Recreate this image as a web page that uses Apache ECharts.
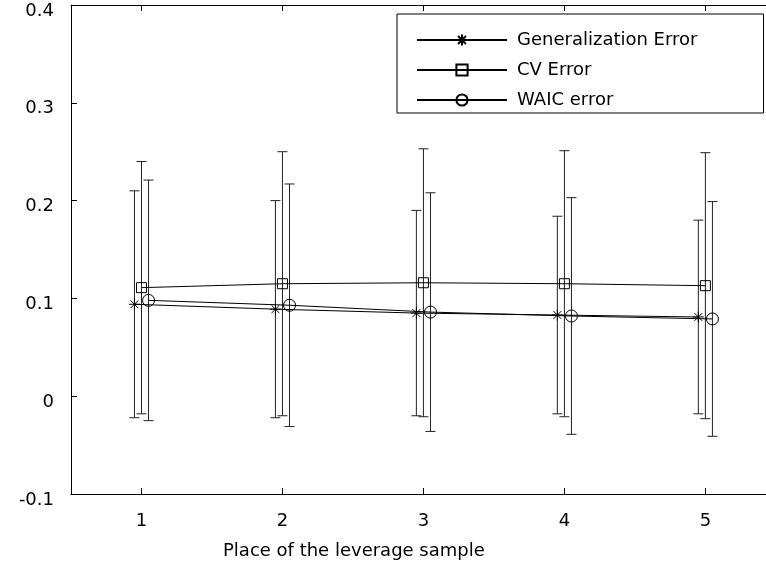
<!DOCTYPE html>
<html>
<head>
<meta charset="utf-8">
<script src="https://cdn.jsdelivr.net/npm/echarts@6/dist/echarts.min.js"></script>
<style>html,body{margin:0;padding:0;background:#fff}#c{width:766px;height:567px}</style>
</head>
<body>
<div id="c"></div>
<script>
// ---- data ----
const categories = [1, 2, 3, 4, 5];
const xTicks = [1, 2, 3, 4, 5];
const yTicks = [-0.1, 0, 0.1, 0.2, 0.3, 0.4];
const seriesNames = ['Generalization Error', 'CV Error', 'WAIC error'];
const genMean  = [0.094, 0.089, 0.085, 0.083, 0.081];
const genSd    = [0.116, 0.111, 0.105, 0.101, 0.099];
const cvMean   = [0.111, 0.115, 0.116, 0.115, 0.113];
const cvSd     = [0.129, 0.135, 0.137, 0.136, 0.136];
const waicMean = [0.098, 0.093, 0.086, 0.082, 0.079];
const waicSd   = [0.123, 0.124, 0.122, 0.121, 0.120];
const xAxisName = 'Place of the leverage sample';

// ---- styling ----
const FONT = 'DejaVu Sans';
const FS = 18;
const offsets = [-0.05, 0, 0.05];
const symbols = [
  'path://M0,-10L0,10M-10,0L10,0M-7.07,-7.07L7.07,7.07M-7.07,7.07L7.07,-7.07',
  'rect',
  'circle'
];
const symbolSizes = [11, 10, 12];
const means = [genMean, cvMean, waicMean];
const sds = [genSd, cvSd, waicSd];

const chart = echarts.init(document.getElementById('c'), null, {renderer: 'canvas'});

const lineSeries = seriesNames.map((name, i) => ({
  name: name,
  type: 'line',
  data: categories.map((c, k) => [c + offsets[i], means[i][k]]),
  symbol: symbols[i],
  symbolSize: symbolSizes[i],
  showSymbol: true,
  z: 3,
  lineStyle: {color: '#000', width: 1},
  itemStyle: {color: 'rgba(0,0,0,0)', borderColor: '#000', borderWidth: 1},
  emphasis: {disabled: true}
}));

const errSeries = seriesNames.map((name, i) => ({
  type: 'custom',
  z: 2,
  data: categories.map((c, k) => [c + offsets[i], means[i][k] - sds[i][k], means[i][k] + sds[i][k]]),
  renderItem: function (params, api) {
    const x = api.value(0);
    const lo = api.coord([x, api.value(1)]);
    const hi = api.coord([x, api.value(2)]);
    const cap = 5;
    const st = {stroke: '#222', lineWidth: 1};
    return {
      type: 'group',
      children: [
        {type: 'line', shape: {x1: lo[0], y1: lo[1], x2: hi[0], y2: hi[1]}, style: st},
        {type: 'line', shape: {x1: lo[0] - cap, y1: lo[1], x2: lo[0] + cap, y2: lo[1]}, style: st},
        {type: 'line', shape: {x1: hi[0] - cap, y1: hi[1], x2: hi[0] + cap, y2: hi[1]}, style: st}
      ]
    };
  },
  encode: {x: 0, y: [1, 2]},
  silent: true
}));

const axisCommon = {
  type: 'value',
  min: 0.5,
  max: 5.43,
  splitLine: {show: false},
  axisLine: {show: true, onZero: false, lineStyle: {color: '#000', width: 1}},
  axisTick: {show: true, inside: true, length: 6, customValues: xTicks, lineStyle: {color: '#000'}},
};

chart.setOption({
  animation: false,
  backgroundColor: '#fff',
  grid: {left: 71, right: 0, top: 5, bottom: 73, containLabel: false},
  xAxis: [
    Object.assign({}, axisCommon, {
      position: 'bottom',
      axisLabel: {show: true, customValues: xTicks, margin: 18, color: '#000', fontFamily: FONT, fontSize: FS}
    }),
    Object.assign({}, axisCommon, {
      position: 'top',
      axisLabel: {show: false}
    })
  ],
  yAxis: {
    type: 'value',
    min: yTicks[0],
    max: yTicks[yTicks.length - 1],
    interval: 0.1,
    splitLine: {show: false},
    axisLine: {show: true, onZero: false, lineStyle: {color: '#000', width: 1}},
    axisTick: {show: true, inside: true, length: 6, lineStyle: {color: '#000'}},
    axisLabel: {
      margin: 17, color: '#000', fontFamily: FONT, fontSize: FS,
      verticalAlign: 'top', lineHeight: 12,
      formatter: v => String(+v.toFixed(1))
    }
  },
  legend: {
    data: seriesNames,
    orient: 'vertical',
    left: 397,
    top: 14,
    padding: [16, 66, 3, 19],
    itemWidth: 90,
    itemHeight: 14,
    itemGap: 10,
    borderColor: '#000',
    borderWidth: 1,
    borderRadius: 0,
    backgroundColor: '#fff',
    selectedMode: false,
    textStyle: {color: '#000', fontFamily: FONT, fontSize: FS, lineHeight: 20, padding: [0, 0, 0, 5]}
  },
  graphic: [{
    type: 'text',
    x: 223,
    y: 551,
    style: {text: xAxisName, font: FS + 'px "' + FONT + '"', fill: '#000', verticalAlign: 'middle', align: 'left'}
  }],
  series: errSeries.concat(lineSeries)
});
</script>
</body>
</html>
